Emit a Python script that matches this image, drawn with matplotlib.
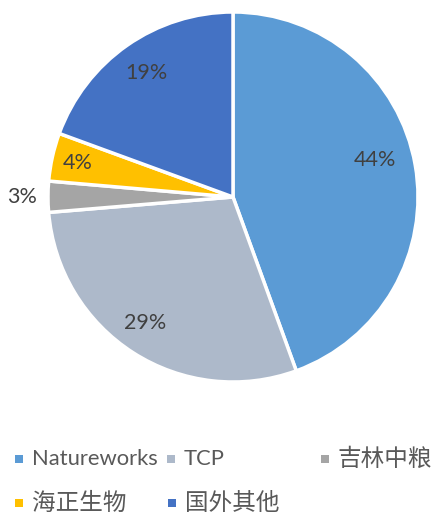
import numpy as np
import matplotlib.pyplot as plt
from matplotlib.patches import Rectangle

# --- data ---
labels = ['Natureworks', 'TCP', '吉林中粮', '海正生物', '国外其他']
shares = [44.4, 29.2, 2.7, 4.2, 19.4]
colors = ['#5B9BD5', '#ADB9CA', '#A5A5A5', '#FFC000', '#4472C4']

# label placement per slice: (distance from centre, angle tweak in deg)
lab_dist = [0.79, 0.83, 1.14, 0.86, 0.82]
lab_tweak = [4.5, -2.5, 0.0, 0.0, 0.0]

# legend grid: (col x px, row y px) for each entry
leg_x = [15, 167, 321, 15, 168]
leg_y = [459, 459, 459, 503, 503]

TXT = '#595959'
W, H = 435, 513

plt.rcParams['font.family'] = ['Lato', 'Noto Sans CJK SC', 'DejaVu Sans']

fig = plt.figure(figsize=(W / 100, H / 100), dpi=100)
cx, cy, r = 233, 197, 185
ax = fig.add_axes([(cx - r) / W, (H - cy - r) / H, 2 * r / W, 2 * r / H])

wedges, _ = ax.pie(shares, colors=colors, startangle=90, counterclock=False,
                   radius=1, wedgeprops=dict(edgecolor='white', linewidth=2.5))
ax.set_xlim(-1, 1)
ax.set_ylim(-1, 1)
ax.set_aspect('equal')
ax.axis('off')

for w, v, d, tw in zip(wedges, shares, lab_dist, lab_tweak):
    ang = np.deg2rad((w.theta1 + w.theta2) / 2 + tw)
    ax.text(d * np.cos(ang), d * np.sin(ang), f'{v:.0f}%', ha='center',
            va='center', fontsize=15.5, color='#404040', clip_on=False)

# legend, laid out as a grid like the original
for lab, c, x, y in zip(labels, colors, leg_x, leg_y):
    s = 8
    fig.add_artist(Rectangle((x / W, (H - y - s / 2) / H), s / W, s / H,
                             transform=fig.transFigure, color=c, lw=0))
    is_cjk = not lab.isascii()
    fig.text((x + 17) / W, (H - y) / H, lab, ha='left', va='center',
             fontsize=17 if is_cjk else 15.8, color=TXT)

fig.savefig('out.png', dpi=100)
